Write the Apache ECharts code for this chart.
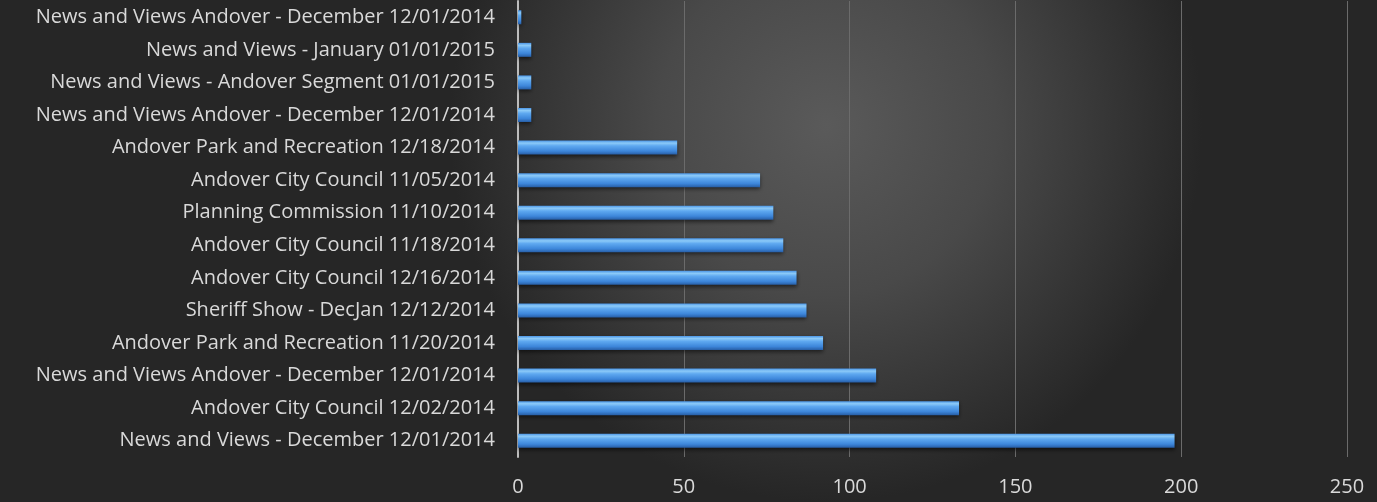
<!DOCTYPE html>
<html><head><meta charset="utf-8">
<script src="https://cdn.jsdelivr.net/npm/echarts@6/dist/echarts.min.js"></script>
<style>html,body{margin:0;padding:0;}#c{width:1377px;height:502px;}</style>
</head><body><div id="c"></div>
<script>
const categories = [
  "News and Views Andover - December 12/01/2014",
  "News and Views - January 01/01/2015",
  "News and Views - Andover Segment 01/01/2015",
  "News and Views Andover - December 12/01/2014 ",
  "Andover Park and Recreation 12/18/2014",
  "Andover City Council 11/05/2014",
  "Planning Commission 11/10/2014",
  "Andover City Council 11/18/2014",
  "Andover City Council 12/16/2014",
  "Sheriff Show - DecJan 12/12/2014",
  "Andover Park and Recreation 11/20/2014",
  "News and Views Andover - December 12/01/2014  ",
  "Andover City Council 12/02/2014",
  "News and Views - December 12/01/2014"
];
const values = [1, 4, 4, 4, 48, 73, 77, 80, 84, 87, 92, 108, 133, 198];
const xTicks = [0, 50, 100, 150, 200, 250];

const chart = echarts.init(document.getElementById('c'), null, {renderer: 'canvas'});
chart.setOption({
  animation: false,
  backgroundColor: {
    type: 'radial', x: 0.6, y: 0.25, r: 0.75,
    colorStops: [
      {offset: 0, color: '#5a5a5a'},
      {offset: 0.45, color: '#494949'},
      {offset: 1, color: '#262626'}
    ]
  },
  grid: {left: 518, right: 30, top: 1, bottom: 45, containLabel: false},
  xAxis: {
    type: 'value', min: xTicks[0], max: xTicks[xTicks.length - 1], interval: 50,
    axisLine: {show: false}, axisTick: {show: false},
    splitLine: {show: true, lineStyle: {color: '#6b6b6b', width: 1}},
    axisLabel: {color: '#d9d9d9', fontSize: 20, fontFamily: 'Open Sans', margin: 20}
  },
  yAxis: {
    type: 'category', data: categories, inverse: true,
    axisLine: {show: true, lineStyle: {color: '#bdbdbd', width: 2}},
    axisTick: {show: false},
    axisLabel: {color: '#d9d9d9', fontSize: 20, fontFamily: 'Open Sans', margin: 23,
      formatter: function (v) { return v.trim(); }}
  },
  series: [{
    type: 'bar', data: values, barWidth: 14,
    itemStyle: {
      color: {
        type: 'linear', x: 0, y: 0, x2: 0, y2: 1,
        colorStops: [
          {offset: 0, color: '#4a95e6'},
          {offset: 0.18, color: '#8ccaf8'},
          {offset: 0.38, color: '#5ea8f0'},
          {offset: 0.75, color: '#3d86da'},
          {offset: 1, color: '#275ea6'}
        ]
      },
      shadowColor: 'rgba(0,0,0,0.55)', shadowBlur: 4, shadowOffsetY: 2
    }
  }]
});
</script></body></html>
